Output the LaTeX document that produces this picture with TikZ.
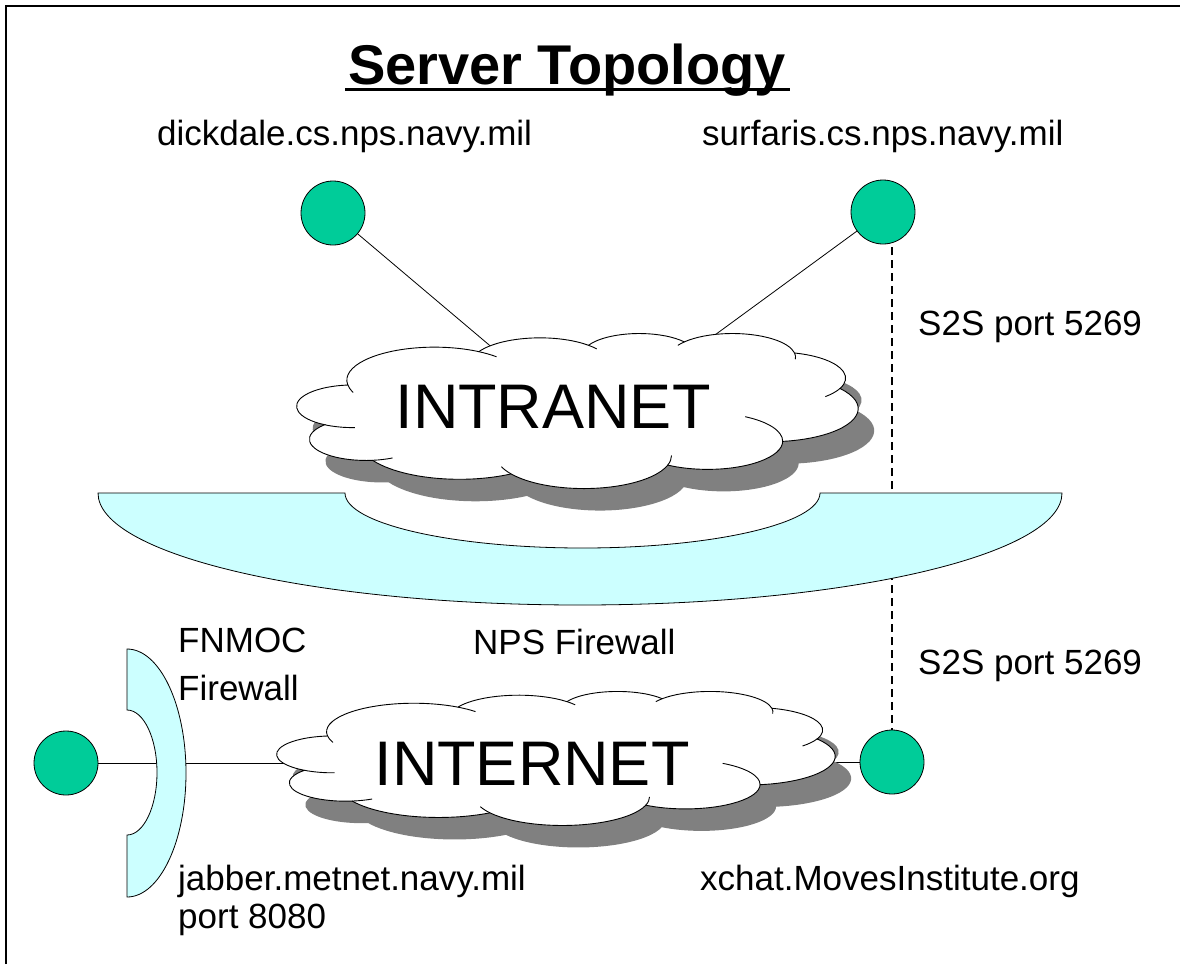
\documentclass[tikz,border=0pt]{standalone}
\usepackage{fontspec}
\setmainfont{Liberation Sans}
\definecolor{hostgreen}{RGB}{0,204,153}
\definecolor{wallcyan}{RGB}{204,255,255}
\definecolor{shadowgray}{RGB}{128,128,128}
% cloud outline in a 100 x 100 box (y downwards)
\newcommand\netcloudpath[1]{%
  \path[#1] (9.028,33.264)
    arc[start angle=-187.75, end angle=-59.64, x radius=15.632, y radius=21.273]
    arc[start angle=-151.98, end angle=-45.5, x radius=12.345, y radius=16.822]
    arc[start angle=-153.46, end angle=-37.37, x radius=10.104, y radius=13.762]
    arc[start angle=-139.78, end angle=-10.20, x radius=11.243, y radius=15.266]
    arc[start angle=-74.80, end angle=23.26, x radius=12.345, y radius=16.836]
    arc[start angle=-37.52, end angle=81.86, x radius=15.683, y radius=21.343]
    arc[start angle=0.46, end angle=121.98, x radius=13.391, y radius=18.211]
    arc[start angle=16.89, end angle=146.14, x radius=15.630, y radius=21.331]
    arc[start angle=59.08, end angle=150.10, x radius=17.870, y radius=24.405]
    arc[start angle=83.29, end angle=223.04, x radius=10.093, y radius=13.699]
    arc[start angle=120.21, end angle=264.14, x radius=10.058, y radius=13.762]
    -- cycle;}
\newcommand\cloudarc[6]{\draw[cloudline] (#1,#2) ++(#5:#3 and #4) arc[start angle=#5, end angle=#6, x radius=#3, y radius=#4];}
\newcommand\netcloudinner{%
  \cloudarc{24.52}{30.40}{15.632}{21.273}{-187.75}{-202}
  \cloudarc{24.52}{30.40}{15.632}{21.273}{-59.64}{-45}
  \cloudarc{43.32}{19.94}{12.345}{16.822}{-45.5}{-35}
  \cloudarc{77.63}{15.59}{11.243}{15.266}{-139.78}{-150}
  \cloudarc{77.63}{15.59}{11.243}{15.266}{-10.20}{5}
  \cloudarc{85.45}{29.13}{12.345}{16.836}{23.26}{45}
  \cloudarc{73.18}{69.76}{13.391}{18.211}{0.46}{-60}
  \cloudarc{51.13}{79.01}{15.630}{21.331}{16.89}{0}
  \cloudarc{51.13}{79.01}{15.630}{21.331}{146.14}{160}
  \cloudarc{12.30}{68.52}{10.093}{13.699}{83.29}{62}
  \cloudarc{9.98}{47.28}{10.058}{13.762}{120.21}{88}}
\begin{document}
\begin{tikzpicture}[x=1pt,y=-1pt,
  host/.style={circle, draw, fill=hostgreen, minimum size=64pt, inner sep=0pt, line width=0.8pt},
  wall/.style={draw, fill=wallcyan, line width=0.8pt},
  link/.style={line width=0.8pt},
  s2slink/.style={line width=1.2pt, dash pattern=on 8pt off 5pt},
  cloudline/.style={line width=0.9pt},
  lbl/.style={font=\fontsize{35}{40}\selectfont, inner sep=0pt, anchor=base west},
  netlbl/.style={font=\fontsize{63}{70}\selectfont, inner sep=0pt, anchor=base},
  frame/.style={line width=2.5pt}
]
\useasboundingbox (0,0) rectangle (1180,964);
% frame
\coordinate (fa) at (6,964);
\coordinate (fb) at (6,6);
\coordinate (fc) at (1180,6);
\draw[frame] (fa) -- (fb) -- (fc);

% title
\node[font=\bfseries\fontsize{56}{60}\selectfont, inner sep=0pt, anchor=base] (title) at (567,84) {Server Topology};
\coordinate (ula) at (345,89);
\coordinate (ulb) at (790,89);
\draw[line width=3pt] (ula) -- (ulb);

% host positions
\coordinate (h1) at (333,213);
\coordinate (h2) at (883,212);
\coordinate (h3) at (66,763);
\coordinate (h4) at (892,762);
\coordinate (p1) at (501,355);
\coordinate (p2) at (693,351);
\coordinate (netc) at (556,758);

% connectors under shapes
\draw[s2slink] (h4) -- (h4 |- h2);
\draw[link] (h1) -- (p1);
\draw[link] (h2) -- (p2);
\draw[link] (h3) -- (h3 -| netc);
\draw[link] (h4) -- (h4 -| netc);

% NPS firewall
\path[wall] (98,493) -- (345,493)
  arc[start angle=180, end angle=0, x radius=237.5, y radius=55]
  -- (1062,493)
  arc[start angle=0, end angle=180, x radius=482, y radius=112]
  -- cycle;

% intranet cloud
\begin{scope}[shift={(313,355)}, x=5.61pt, y=-1.55pt]
  \netcloudpath{fill=shadowgray}
\end{scope}
\begin{scope}[shift={(297,333)}, x=5.61pt, y=-1.55pt]
  \netcloudpath{draw, cloudline, fill=white}
  \netcloudinner
\end{scope}
\node[netlbl] (intranetlbl) at (553,428) {INTRANET};

% FNMOC firewall
\path[wall] (127,649)
  arc[start angle=-90, end angle=90, x radius=59, y radius=124]
  -- (127,835)
  arc[start angle=90, end angle=-90, x radius=30, y radius=62.5]
  -- cycle;

% internet cloud
\begin{scope}[shift={(293,713)}, x=5.58pt, y=-1.34pt]
  \netcloudpath{fill=shadowgray}
\end{scope}
\begin{scope}[shift={(277,691)}, x=5.58pt, y=-1.34pt]
  \netcloudpath{draw, cloudline, fill=white}
  \netcloudinner
\end{scope}
\node[netlbl] (internetlbl) at (532,785) {INTERNET};

% hosts
\node[host] (dickdale) at (h1) {};
\node[host] (surfaris) at (h2) {};
\node[host] (jabber) at (h3) {};
\node[host] (xchat) at (h4) {};

% labels
\node[lbl] (l1) at (157,145) {dickdale.cs.nps.navy.mil};
\node[lbl] (l2) at (702,145) {surfaris.cs.nps.navy.mil};
\node[lbl] (l3) at (918,335) {S2S port 5269};
\node[lbl] (l4) at (918,674) {S2S port 5269};
\node[lbl] (l5) at (473,654) {NPS Firewall};
\node[lbl] (l6) at (178,652) {FNMOC};
\node[lbl] (l7) at (178,700) {Firewall};
\node[lbl] (l8) at (178,890) {jabber.metnet.navy.mil};
\node[lbl] (l9) at (178,928) {port 8080};
\node[lbl] (l10) at (700,890) {xchat.MovesInstitute.org};
\end{tikzpicture}
\end{document}
